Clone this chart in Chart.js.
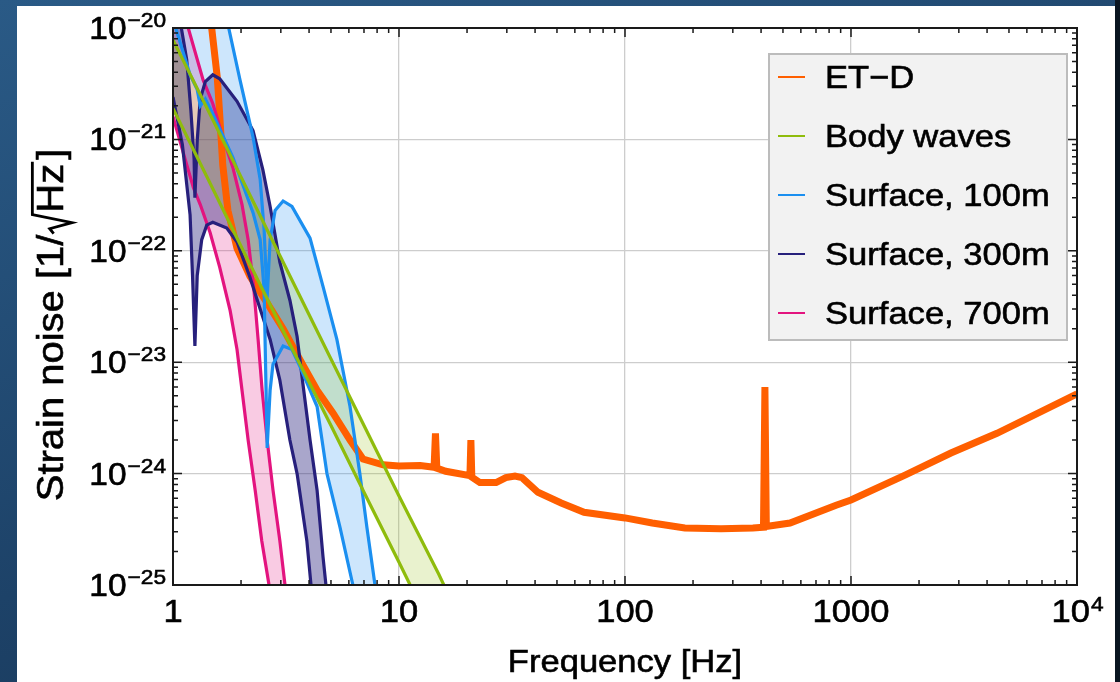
<!DOCTYPE html>
<html>
<head>
<meta charset="utf-8">
<script src="https://cdn.jsdelivr.net/npm/chart.js@4.4.1/dist/chart.umd.min.js"></script>
<style>
  html, body { margin: 0; padding: 0; width: 1120px; height: 682px; overflow: hidden; }
  body { background: linear-gradient(160deg, #2a5a86 0%, #1d4268 55%, #16324f 100%); }
  #panel { position: absolute; left: 17px; top: 6px; width: 1098px; height: 676px; background: #fff; }
  #edge { position: absolute; left: 1115px; top: 0; width: 5px; height: 682px; background: #0a1521; }
  #wrap { position: absolute; left: 0; top: 0; width: 1120px; height: 682px; }
</style>
</head>
<body>
<div id="panel"></div>
<div id="edge"></div>
<div id="wrap"><canvas id="myChart"></canvas></div>
<script>
// ET-D sensitivity
var etdFreq = [1.45, 1.57, 1.61, 1.66, 1.75, 1.92, 2.19, 2.61, 3.07, 3.65, 4.34, 5.1, 6.07, 6.93, 8.5, 10, 12.4,
  14.3, 14.5, 14.7, 16.1, 20.6, 20.8, 21.0, 22.8, 26.9, 29.7, 32.6, 35, 41.2, 52.2, 65.9, 100, 132, 184, 266,
  368, 410, 416, 422, 537, 859, 1000, 1734, 2768, 4425, 10000];
var etdStrain = [1.5e-20, 3.6e-21, 1.65e-21, 5.9e-22, 2.3e-22, 1.05e-22, 5.9e-23, 3.4e-23, 2.0e-23, 1.05e-23,
  5.6e-24, 3.5e-24, 2.0e-24, 1.35e-24, 1.2e-24, 1.17e-24, 1.18e-24,
  1.14e-24, 2.3e-24, 1.12e-24, 1.05e-24, 9.6e-25, 2.0e-24, 9.3e-25, 8.3e-25, 8.3e-25, 9.2e-25, 9.5e-25, 9.2e-25,
  6.8e-25, 5.45e-25, 4.5e-25, 4.0e-25, 3.6e-25, 3.25e-25, 3.2e-25,
  3.25e-25, 3.3e-25, 6.0e-24, 3.35e-25, 3.6e-25, 5.2e-25, 5.8e-25, 9.7e-25, 1.53e-24, 2.3e-24, 5.2e-24];

// body waves band
var bodyFreq = [1, 1.5, 2, 3, 5, 7, 10, 15, 20];
var bodyHigh = [7.8e-21, 1.5e-21, 4.6e-22, 8.7e-23, 1.07e-23, 2.7e-24, 6.3e-25, 1.25e-25, 3.6e-26];
var bodyLow = [1.9e-21, 3.6e-22, 1.1e-22, 2.1e-23, 2.7e-24, 6.8e-25, 1.6e-25, 3.0e-26, 1.0e-26];

// surface waves, 100 m
var s100HighFreq = [1.0, 1.73, 1.98, 2.26, 2.43, 2.53, 2.61, 2.69, 2.83, 3.07, 3.36, 4.04, 4.61, 5.31, 6.07, 6.71, 7.21, 7.83, 8.4];
var s100High = [2e-18, 1.2e-20, 3.4e-21, 1.05e-21, 4.4e-22, 1.55e-22, 3.8e-23, 1.26e-22, 2.3e-22, 2.8e-22, 2.5e-22,
  1.3e-22, 4.8e-23, 1.6e-23, 4.0e-24, 1.0e-24, 3.3e-25, 1.0e-25, 3.0e-26];
var s100LowFreq = [1.0, 1.19, 1.28, 1.32, 1.39, 1.5, 1.84, 2.26, 2.43, 2.53, 2.61, 2.69, 2.77, 3.07, 3.36, 3.65, 4.34, 4.8, 5.48, 6.25, 8.4];
var s100Low = [1.2e-20, 3.8e-21, 2.8e-21, 2.0e-21, 2.3e-21, 1.7e-21, 6.9e-22, 2.2e-22, 1.26e-22, 4.5e-23, 1.7e-24,
  5.6e-24, 9.6e-24, 1.4e-23, 1.3e-23, 9.1e-24, 4.0e-24, 1.0e-24, 3.3e-25, 1.0e-25, 1.0e-27];

// surface waves, 300 m
var s300HighFreq = [1.0, 1.08, 1.15, 1.2, 1.24, 1.25, 1.28, 1.32, 1.39, 1.5, 1.61, 1.92, 2.26, 2.5, 2.69, 2.97,
  3.29, 3.54, 3.76, 4.04, 4.34, 4.61, 4.75, 4.9];
var s300High = [4e-20, 1.1e-20, 5.2e-21, 1.8e-21, 6.6e-22, 3.0e-22, 9.8e-22, 2.3e-21, 3.3e-21, 3.8e-21, 3.5e-21,
  2.2e-21, 1.2e-21, 5.3e-22, 2.5e-22, 7.9e-23, 3.6e-23, 1.7e-23, 6.3e-24, 2.0e-24, 7.1e-25, 1.8e-25, 1.0e-25, 4.9e-26];
var s300LowFreq = [1.0, 1.1, 1.19, 1.22, 1.25, 1.28, 1.34, 1.41, 1.5, 1.73, 1.92, 2.19, 2.43, 2.69, 2.97, 3.29,
  3.54, 3.91, 4.08, 4.9];
var s300Low = [2.4e-21, 9e-22, 2.1e-22, 6e-23, 1.4e-23, 6e-23, 1.26e-22, 1.7e-22, 1.8e-22, 1.6e-22, 1.2e-22,
  5.8e-23, 3.0e-23, 1.6e-23, 6.9e-24, 2.0e-24, 1.0e-24, 2.5e-25, 1.0e-25, 1.0e-27];

// surface waves, 700 m
var s700HighFreq = [1.0, 1.16, 1.36, 1.5, 1.66, 1.84, 2.02, 2.15, 2.28, 2.38, 2.48, 2.61, 2.77, 2.97, 3.13, 3.23];
var s700High = [3e-20, 1.05e-20, 3.4e-21, 2.1e-21, 1.05e-21, 5.6e-22, 2.6e-22, 1.26e-22, 4.5e-23, 1.6e-23,
  5.6e-24, 2.0e-24, 7.1e-25, 2.5e-25, 1.0e-25, 5.0e-26];
var s700LowFreq = [1.0, 1.11, 1.23, 1.32, 1.46, 1.61, 1.79, 1.92, 2.02, 2.15, 2.31, 2.47, 2.66, 3.23];
var s700Low = [1.6e-21, 7.6e-22, 3.7e-22, 2.6e-22, 1.45e-22, 7.1e-23, 2.9e-23, 1.3e-23, 5.6e-24, 2.0e-24,
  7.1e-25, 2.5e-25, 1.0e-25, 1.0e-27];

var legendLabels = ["ET\u2212D", "Body waves", "Surface, 100m", "Surface, 300m", "Surface, 700m"];
var legendColors = ["#ff5f00", "#8fbc0c", "#1b8ff0", "#27207c", "#e3147f"];
var xDecades = [1, 10, 100, 1000, 10000];
var xTickLabels = ["1", "10", "100", "1000", "10^4"];
var yDecades = [1e-25, 1e-24, 1e-23, 1e-22, 1e-21, 1e-20];
var yTickLabels = ["\u221225", "\u221224", "\u221223", "\u221222", "\u221221", "\u221220"];

function pts(xs, ys) {
  return xs.map(function (x, i) { return { x: x, y: ys[i] }; });
}

function band(label, color, fillColor, xs, ys, target) {
  return {
    label: label, data: pts(xs, ys), borderColor: color, borderWidth: 3.2,
    backgroundColor: fillColor, fill: target, pointRadius: 0, tension: 0
  };
}

var SX = 1.08;
var FONT = '"Liberation Sans", Arial, sans-serif';
function textW(ctx, s, size) {
  ctx.font = size + "px " + FONT;
  return ctx.measureText(s).width * SX;
}
// slightly heavier text, like the reference
function text(ctx, s, x, y, size) {
  ctx.font = size + "px " + FONT;
  ctx.save();
  ctx.translate(x, y);
  ctx.scale(SX, 1);
  ctx.textAlign = "left";
  ctx.textBaseline = "alphabetic";
  ctx.strokeStyle = ctx.fillStyle;
  ctx.lineWidth = 0.6;
  ctx.fillText(s, 0, 0);
  ctx.strokeText(s, 0, 0);
  ctx.restore();
}

var framePlugin = {
  id: "frame",
  afterDraw: function (chart) {
    var ctx = chart.ctx, a = chart.chartArea;
    var xs = chart.scales.x, ys = chart.scales.y;
    ctx.save();
    ctx.strokeStyle = "#1a1a1a";
    ctx.fillStyle = "#000";
    // ticks on all four sides
    ctx.lineWidth = 1.5;
    ctx.beginPath();
    for (var d = 1; d <= 10000; d *= 10) {
      for (var m = 1; m <= 9; m++) {
        var v = d * m;
        if (v > 10000) break;
        var px = xs.getPixelForValue(v), len = m === 1 ? 9 : 5;
        ctx.moveTo(px, a.bottom); ctx.lineTo(px, a.bottom - len);
        ctx.moveTo(px, a.top); ctx.lineTo(px, a.top + len);
      }
    }
    for (var e = -25; e <= -20; e++) {
      for (var k = 1; k <= 9; k++) {
        var val = k * Math.pow(10, e);
        if (val > 1.0001e-20) break;
        var py = ys.getPixelForValue(val), ln = k === 1 ? 9 : 5;
        ctx.moveTo(a.left, py); ctx.lineTo(a.left + ln, py);
        ctx.moveTo(a.right, py); ctx.lineTo(a.right - ln, py);
      }
    }
    ctx.stroke();
    ctx.lineWidth = 2;
    ctx.strokeRect(a.left, a.top, a.right - a.left, a.bottom - a.top);

    // y tick labels
    yDecades.forEach(function (v, i) {
      var py = ys.getPixelForValue(v);
      var w1 = textW(ctx, "10", 31), w2 = textW(ctx, yTickLabels[i], 21);
      var x0 = a.left - 8 - w1 - w2;
      text(ctx, "10", x0, py + 11, 31);
      text(ctx, yTickLabels[i], x0 + w1 + 1, py - 1, 21);
    });
    // x tick labels
    xDecades.forEach(function (v, i) {
      var px = xs.getPixelForValue(v), lab = xTickLabels[i];
      if (lab.indexOf("^") > 0) {
        var parts = lab.split("^");
        var w1 = textW(ctx, parts[0], 32), w2 = textW(ctx, parts[1], 21);
        var x0 = px - (w1 + w2) / 2;
        text(ctx, parts[0], x0, 622, 32);
        text(ctx, parts[1], x0 + w1 + 1, 611, 21);
      } else {
        text(ctx, lab, px - textW(ctx, lab, 32) / 2, 622, 32);
      }
    });
    // x title
    var xt = "Frequency [Hz]";
    text(ctx, xt, (a.left + a.right) / 2 - textW(ctx, xt, 32) / 2, 672, 32);

    // y title, rotated, with a drawn radical over Hz
    ctx.save();
    ctx.translate(63, 325);
    ctx.rotate(-Math.PI / 2);
    var size = 37, p1 = "Strain noise [1/", p2 = "Hz", p3 = "]";
    var w1 = textW(ctx, p1, size), wr = 22, w2 = textW(ctx, p2, size), w3 = textW(ctx, p3, size);
    var total = w1 + wr + w2 + w3 + 4;
    var sx = -total / 2;
    text(ctx, p1, sx, 0, size);
    var rx = sx + w1;
    var cap = size * 0.72;
    ctx.strokeStyle = "#000";
    ctx.lineWidth = 2.8;
    ctx.lineJoin = "miter";
    ctx.beginPath();
    ctx.moveTo(rx + 1, -cap * 0.35);
    ctx.lineTo(rx + 6, -cap * 0.5);
    ctx.lineTo(rx + 12, 9);
    ctx.lineTo(rx + wr - 2, -cap - 4);
    ctx.lineTo(rx + wr + w2 + 2, -cap - 4);
    ctx.stroke();
    text(ctx, p2, rx + wr, 0, size);
    text(ctx, p3, rx + wr + w2 + 4, 0, size);
    ctx.restore();

    // legend
    var lx = 769, ly = 54, lw = 298, lh = 286;
    ctx.fillStyle = "#f2f2f2";
    ctx.fillRect(lx, ly, lw, lh);
    ctx.strokeStyle = "#bcbcbc";
    ctx.lineWidth = 2;
    ctx.strokeRect(lx, ly, lw, lh);
    legendLabels.forEach(function (lab, i) {
      var cy = 77 + i * 59;
      ctx.strokeStyle = legendColors[i];
      ctx.lineWidth = 2;
      ctx.beginPath();
      ctx.moveTo(778, cy); ctx.lineTo(805, cy);
      ctx.stroke();
      ctx.fillStyle = "#000";
      text(ctx, lab, 825, cy + 11, 32);
    });
    ctx.restore();
  }
};

var datasets = [
  {
    label: legendLabels[0], data: pts(etdFreq, etdStrain), borderColor: legendColors[0], borderWidth: 7,
    fill: false, pointRadius: 0, tension: 0, order: 1, borderJoinStyle: "miter"
  },
  band(legendLabels[1], legendColors[1], "rgba(143,188,12,0.2)", bodyFreq, bodyHigh, 2),
  band(legendLabels[1] + " low", legendColors[1], "transparent", bodyFreq, bodyLow, false),
  band(legendLabels[2], legendColors[2], "rgba(27,143,240,0.22)", s100HighFreq, s100High, 4),
  band(legendLabels[2] + " low", legendColors[2], "transparent", s100LowFreq, s100Low, false),
  band(legendLabels[3], legendColors[3], "rgba(39,32,124,0.4)", s300HighFreq, s300High, 6),
  band(legendLabels[3] + " low", legendColors[3], "transparent", s300LowFreq, s300Low, false),
  band(legendLabels[4], legendColors[4], "rgba(227,20,127,0.22)", s700HighFreq, s700High, 8),
  band(legendLabels[4] + " low", legendColors[4], "transparent", s700LowFreq, s700Low, false)
];

var ctx = document.getElementById("myChart");
var myChart = new Chart(ctx, {
  type: "line",
  data: { datasets: datasets },
  options: {
    responsive: true,
    maintainAspectRatio: false,
    animation: false,
    layout: { padding: { left: 173, right: 43, top: 28, bottom: 97 } },
    plugins: {
      legend: { display: false },
      tooltip: { enabled: false },
      filler: { drawTime: "beforeDatasetsDraw" }
    },
    scales: {
      x: {
        type: "logarithmic", min: 1, max: 10000,
        ticks: { display: false },
        grid: { color: "#cdcdcd", lineWidth: 1.3, drawTicks: false },
        border: { display: false },
        afterBuildTicks: function (s) { s.ticks = xDecades.map(function (v) { return { value: v }; }); },
        afterFit: function (s) { s.height = 0; }
      },
      y: {
        type: "logarithmic", min: 1e-25, max: 1e-20,
        ticks: { display: false },
        grid: { color: "#cdcdcd", lineWidth: 1.3, drawTicks: false },
        border: { display: false },
        afterBuildTicks: function (s) { s.ticks = yDecades.map(function (v) { return { value: v }; }); },
        afterFit: function (s) { s.width = 0; }
      }
    }
  },
  plugins: [framePlugin]
});
</script>
</body>
</html>
